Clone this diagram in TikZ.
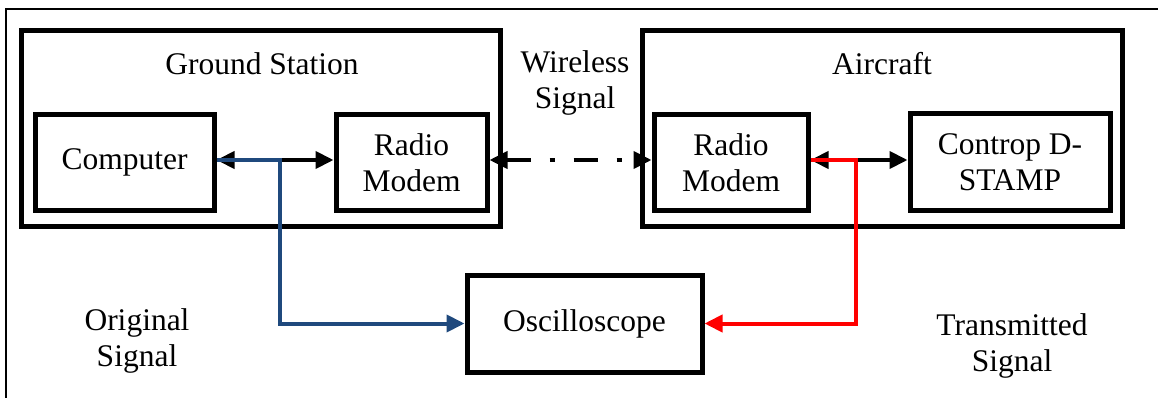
\documentclass[tikz,border=0pt]{standalone}
\usepackage{fontspec}
\setmainfont{Liberation Serif}
\usetikzlibrary{arrows.meta}
\definecolor{sigblue}{RGB}{31,73,125}
\begin{document}
\begin{tikzpicture}[x=1pt,y=-1pt,
  box/.style={draw,line width=5pt,inner sep=0pt,align=center,font=\fontsize{31.5}{36}\selectfont},
  lbl/.style={inner sep=0pt,align=center,font=\fontsize{31.5}{36}\selectfont},
  tip/.style={Triangle[length=18pt,width=17pt]},
  conn/.style={line width=4pt,-{Triangle[length=18pt,width=17pt]}},
  dconn/.style={line width=4pt,{Triangle[length=18pt,width=17pt]}-{Triangle[length=18pt,width=17pt]}}]
\useasboundingbox (0,0) rectangle (1158,398);
\draw[line width=1.5pt] (6,398) -- (6,9) -- (1158,9);
% group boxes
\node[box,minimum width=479pt,minimum height=195pt] (gs) at (260.5,128.5) {};
\node[box,minimum width=480pt,minimum height=195pt] (ac) at (882,128.5) {};
\node[lbl] (gst) at (262,64) {Ground Station};
\node[lbl] (act) at (882,64) {Aircraft};
\node[lbl] (ws) at (575,83) {Wireless\\Signal};
% inner boxes
\node[box,minimum width=179pt,minimum height=95pt] (comp) at (124.5,162.5) {Computer};
\node[box,minimum width=151pt,minimum height=95pt] (rm1) at (411.5,162.5) {Radio\\Modem};
\node[box,minimum width=154pt,minimum height=95pt] (rm2) at (731,162.5) {Radio\\Modem};
\node[box,minimum width=200pt,minimum height=97pt] (cd) at (1010,162) {Controp D-\\STAMP};
\node[box,minimum width=235pt,minimum height=97pt] (osc) at (584.5,323.5) {Oscilloscope};
\node[lbl] (os) at (137,341) {Original\\Signal};
\node[lbl] (ts) at (1012,346) {Transmitted\\Signal};
% connectors
\coordinate (bj) at (280,160);
\coordinate (rj) at (856,160);
\draw[dconn] (comp.east |- bj) -- (rm1.west |- bj);
\draw[dconn] (rm2.east |- rj) -- (cd.west |- rj);
\draw[dconn,dash pattern=on 24pt off 19pt on 5pt off 19pt] (rm1.east |- bj) -- (rm2.west |- bj);
\draw[conn,sigblue] (comp.east |- bj) -- (bj) |- (osc.west);
\draw[conn,red] (rm2.east |- rj) -- (rj) |- (osc.east);
\end{tikzpicture}
\end{document}
